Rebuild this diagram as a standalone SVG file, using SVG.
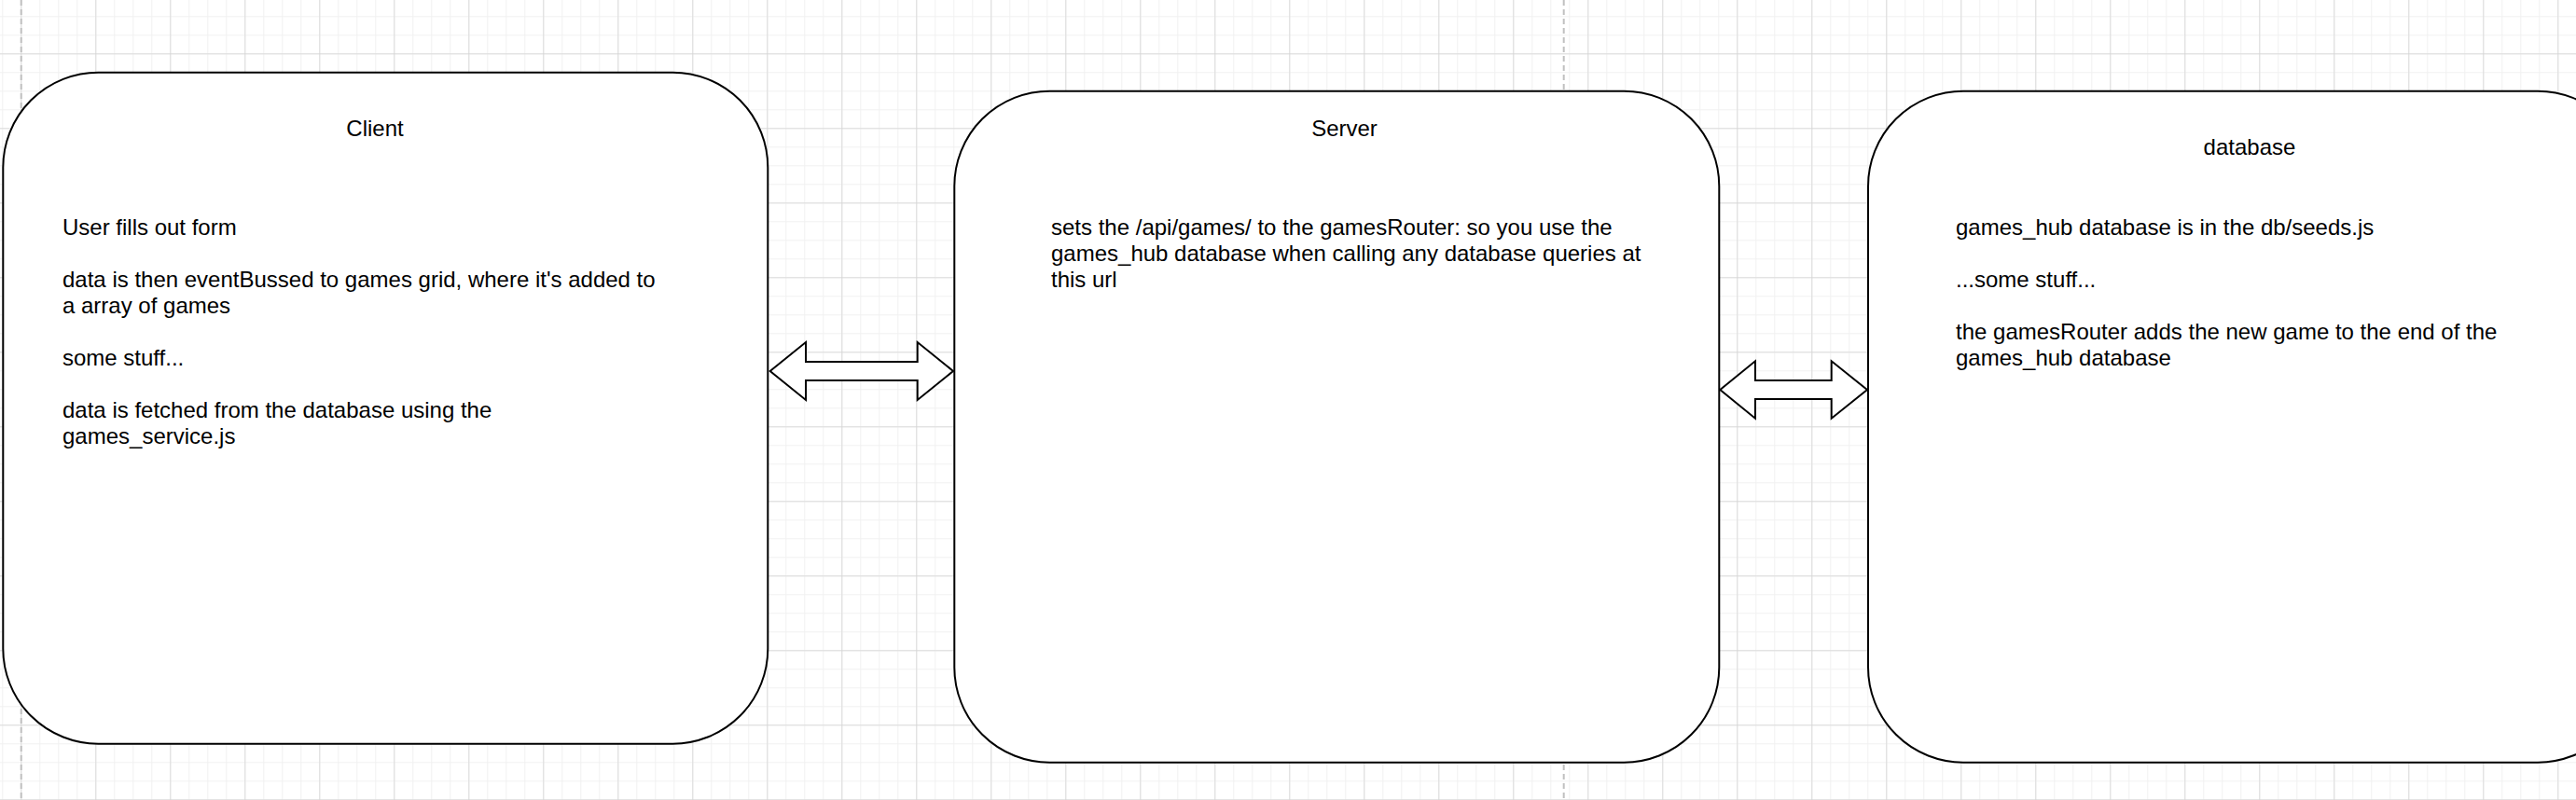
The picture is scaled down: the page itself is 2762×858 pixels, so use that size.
<svg xmlns="http://www.w3.org/2000/svg" width="2762" height="858" viewBox="0 0 2762 858">
<style>
.box{fill:#ffffff;stroke:#000000;stroke-width:2}
.arrow{fill:#ffffff;stroke:#000000;stroke-width:2;stroke-linejoin:miter}
.t{font-family:"Liberation Sans",Arial,Helvetica,sans-serif;font-size:24px;fill:#000000}
.c{text-anchor:middle}
.page{stroke:#c0c0c0;stroke-width:2;stroke-dasharray:6 4;fill:none}
</style>
<defs>
<pattern id="minor" patternUnits="userSpaceOnUse" x="2.3" y="17.3" width="20" height="20">
<path d="M0 0 V20 M0 0 H20" stroke="#f1f1f1" stroke-width="2" fill="none"/>
</pattern>
<pattern id="major" patternUnits="userSpaceOnUse" x="22.3" y="57.3" width="80" height="80">
<path d="M0 0 V80 M0 0 H80" stroke="#d3d3d3" stroke-width="1.5" fill="none"/>
</pattern>
</defs>
<g id="background">
<rect x="0" y="0" width="2762" height="858" fill="#ffffff"/>
<rect x="0" y="0" width="2762" height="858" fill="url(#minor)"/>
<rect x="0" y="0" width="2762" height="858" fill="url(#major)"/>
<line class="page" x1="22.7" y1="0" x2="22.7" y2="858"/>
<line class="page" x1="1676.7" y1="0" x2="1676.7" y2="858"/>
</g>
<g id="client">
<rect class="box" x="3.3" y="77.7" width="820" height="720" rx="102" ry="102"/>
<text class="t c" x="402" y="146">Client</text>
<text class="t" x="67" y="252">User fills out form</text>
<text class="t" x="67" y="308">data is then eventBussed to games grid, where it's added to</text>
<text class="t" x="67" y="336">a array of games</text>
<text class="t" x="67" y="392">some stuff...</text>
<text class="t" x="67" y="448">data is fetched from the database using the</text>
<text class="t" x="67" y="476">games_service.js</text>
</g>
<g id="server">
<rect class="box" x="1023.3" y="97.7" width="820" height="720" rx="102" ry="102"/>
<text class="t c" x="1441.5" y="146">Server</text>
<text class="t" x="1127" y="252">sets the /api/games/ to the gamesRouter: so you use the</text>
<text class="t" x="1127" y="280">games_hub database when calling any database queries at</text>
<text class="t" x="1127" y="308">this url</text>
</g>
<g id="database">
<rect class="box" x="2003" y="97.7" width="820" height="720" rx="102" ry="102"/>
<text class="t c" x="2412" y="166">database</text>
<text class="t" x="2097" y="252">games_hub database is in the db/seeds.js</text>
<text class="t" x="2097" y="308">...some stuff...</text>
<text class="t" x="2097" y="364">the gamesRouter adds the new game to the end of the</text>
<text class="t" x="2097" y="392">games_hub database</text>
</g>
<g id="connectors">
<polygon id="client-server" class="arrow" points="825.7,398 864,367 864,388 983.7,388 983.7,367 1022,398 983.7,429 983.7,408 864,408 864,429"/>
<polygon id="server-database" class="arrow" points="1844.3,418 1882,387.3 1882,408 1963.7,408 1963.7,387.3 2002,418 1963.7,448.7 1963.7,428 1882,428 1882,448.7"/>
</g>
</svg>
